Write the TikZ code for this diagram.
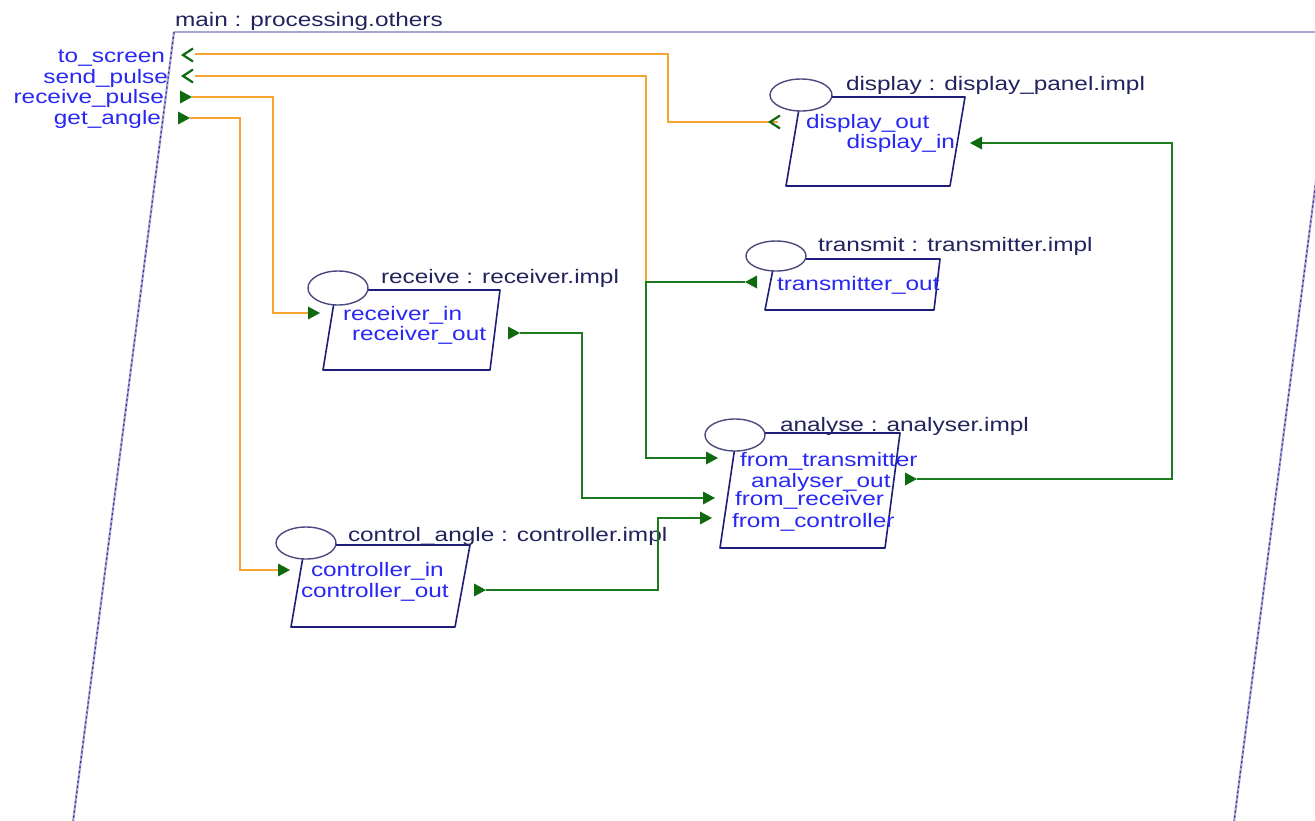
\documentclass[tikz,border=0pt]{standalone}
\usepackage{fontspec}
\setmainfont{Liberation Sans}
\begin{document}
\definecolor{navytext}{HTML}{23235E}
\definecolor{portblue}{HTML}{2828F5}
\definecolor{wireorange}{HTML}{F7A531}
\definecolor{wiregreen}{HTML}{1E7A1E}
\definecolor{markgreen}{HTML}{0F6A0F}
\definecolor{boxnavy}{HTML}{1E1E7A}
\definecolor{ovalnavy}{HTML}{4A4A7E}
\definecolor{framelav}{HTML}{A6A6D2}
\definecolor{framedash}{HTML}{2A2A9A}
\begin{tikzpicture}[x=1pt,y=-1pt,
  every node/.style={inner sep=0pt, outer sep=0pt, font=\fontsize{19.5}{21}\selectfont},
  comptitle/.style={text=navytext, anchor=base west, xscale=1.25},
  porttext/.style={text=portblue, xscale=1.25},
  compbox/.style={draw=boxnavy, line width=1.6pt, fill=white, line join=round},
  compoval/.style={draw=ovalnavy, line width=1.4pt, fill=white},
  orangewire/.style={draw=wireorange, line width=2.2pt},
  greenwire/.style={draw=wiregreen, line width=2pt},
  pics/triR/.style={code={\fill[markgreen] (0,-6.5) -- (12,0) -- (0,6.5) -- cycle;}},
  pics/triL/.style={code={\fill[markgreen] (0,-6.5) -- (-12,0) -- (0,6.5) -- cycle;}},
  pics/openL/.style={code={\draw[markgreen, line width=2.2pt, line join=miter] (10,-6.5) -- (0,0) -- (10,6.5);}},
]
\useasboundingbox (0,0) rectangle (1315,820);
\clip (0,0) rectangle (1315,820);
\fill[white] (0,0) rectangle (1315,820);

% enclosing system frame
\draw[framelav, line width=2.4pt] (174,32) -- (1335,32);
\draw[framelav, line width=2.2pt] (174,32) -- (73,822);
\draw[framedash, line width=1.1pt, dash pattern=on 2pt off 3pt] (174,32) -- (73,822);
\draw[framelav, line width=2.2pt] (1335,32) -- (1234,822);
\draw[framedash, line width=1.1pt, dash pattern=on 2pt off 3pt] (1335,32) -- (1234,822);
\node[comptitle] (mainT) at (175,26) {main : processing.others};

% external ports of main
\node[porttext, anchor=base east] (lTS) at (165,62) {to\_screen};
\node[porttext, anchor=base east] (lSP) at (168,83) {send\_pulse};
\node[porttext, anchor=base east] (lRP) at (164,103) {receive\_pulse};
\node[porttext, anchor=base east] (lGA) at (161,124) {get\_angle};
\coordinate (mTS) at (183,55);
\coordinate (mSP) at (183,76);
\coordinate (mRP) at (180,97);
\coordinate (mGA) at (178,118);

% component: display
\draw[compbox] (801,97) -- (965,97) -- (950,186) -- (786,186) -- cycle;
\draw[compoval] (801,95) ellipse [x radius=31, y radius=16];
\node[comptitle] (dispT) at (846,90) {display : display\_panel.impl};
\node[porttext, anchor=base west] (dOutL) at (806,128) {display\_out};
\node[porttext, anchor=base east] (dInL) at (955,148) {display\_in};
\coordinate (dOut) at (770,122);
\coordinate (dIn) at (982,143);

% component: transmit
\draw[compbox] (775,259) -- (940,259) -- (934,310) -- (765,310) -- cycle;
\draw[compoval] (776,256) ellipse [x radius=30, y radius=15];
\node[comptitle] (trT) at (818,251) {transmit : transmitter.impl};
\node[porttext, anchor=base west] (tOutL) at (777,290) {transmitter\_out};
\coordinate (tOut) at (757,282);

% component: receive
\draw[compbox] (336,290) -- (500,290) -- (490,370) -- (323,370) -- cycle;
\draw[compoval] (338,288) ellipse [x radius=30, y radius=17];
\node[comptitle] (rcT) at (381,283) {receive : receiver.impl};
\node[porttext, anchor=base west] (rInL) at (343,320) {receiver\_in};
\node[porttext, anchor=base west] (rOutL) at (352,340) {receiver\_out};
\coordinate (rIn) at (308,313);
\coordinate (rOut) at (508,333);

% component: analyse
\draw[compbox] (737,433) -- (900,433) -- (885,548) -- (720,548) -- cycle;
\draw[compoval] (735,435) ellipse [x radius=30, y radius=16];
\node[comptitle] (anT) at (780,431) {analyse : analyser.impl};
\node[porttext, anchor=base west] (aFtL) at (740,466) {from\_transmitter};
\node[porttext, anchor=base west] (aOutL) at (751,487) {analyser\_out};
\node[porttext, anchor=base west] (aFrL) at (735,505) {from\_receiver};
\node[porttext, anchor=base west] (aFcL) at (732,527) {from\_controller};
\coordinate (aFt) at (706,458);
\coordinate (aOut) at (905,479);
\coordinate (aFr) at (703,498);
\coordinate (aFc) at (700,518);

% component: control_angle
\draw[compbox] (305,545) -- (470,545) -- (455,627) -- (291,627) -- cycle;
\draw[compoval] (306,543) ellipse [x radius=30, y radius=16];
\node[comptitle] (caT) at (348,541) {control\_angle : controller.impl};
\node[porttext, anchor=base west] (cInL) at (311,576) {controller\_in};
\node[porttext, anchor=base west] (cOutL) at (301,597) {controller\_out};
\coordinate (cIn) at (278,570);
\coordinate (cOut) at (474,590);

% connections
\coordinate (jSP) at (646,282);
\draw[orangewire] ([xshift=8]dOut) -- (668,122) -- (668,54) -- ([xshift=12]mTS |- 0,54);
\draw[orangewire] (jSP) -- (646,76) -- ([xshift=12]mSP);
\draw[orangewire] ([xshift=12]mRP) -- (273,97) -- (273,313) -- (rIn);
\draw[orangewire] ([xshift=12]mGA) -- (240,118) -- (240,570) -- (cIn);
\draw[greenwire] ([xshift=-12]tOut) -- (jSP) -- (646,458) -- (aFt);
\draw[greenwire] ([xshift=12]rOut) -- (582,333) -- (582,498) -- (aFr);
\draw[greenwire] ([xshift=12]cOut) -- (658,590) -- (658,518) -- (aFc);
\draw[greenwire] ([xshift=12]aOut) -- (1172,479) -- (1172,143) -- (dIn);

% port markers
\pic at (mTS) {openL};
\pic at (mSP) {openL};
\pic at (mRP) {triR};
\pic at (mGA) {triR};
\pic at (dOut) {openL};
\pic at (dIn) {triL};
\pic at (tOut) {triL};
\pic at (rIn) {triR};
\pic at (rOut) {triR};
\pic at (aFt) {triR};
\pic at (aOut) {triR};
\pic at (aFr) {triR};
\pic at (aFc) {triR};
\pic at (cIn) {triR};
\pic at (cOut) {triR};
\end{tikzpicture}
\end{document}
